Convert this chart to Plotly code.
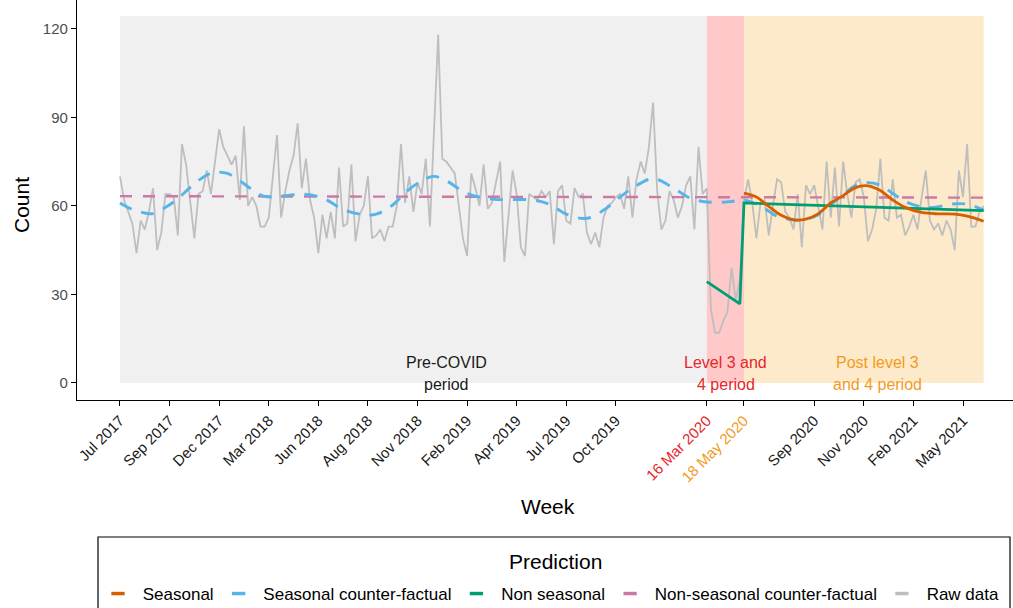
import plotly.graph_objects as go

# ---------------- data ----------------
weeks = list(range(210))
raw_counts = [
    70, 62, 58, 54, 44, 55, 52, 58, 66, 45,
    51, 64, 64, 63, 50, 81, 74, 62, 49, 64,
    65, 72, 64, 75, 86, 80, 77, 74, 77, 62,
    87, 60, 63, 60, 53, 53, 56, 70, 84, 56,
    65, 72, 77, 88, 66, 76, 62, 56, 44, 57,
    49, 58, 49, 73, 53, 54, 74, 48, 57, 60,
    70, 49, 50, 52, 48, 53, 53, 60, 81, 61,
    70, 58, 68, 64, 76, 53, 84, 118, 76, 75,
    73, 71, 60, 49, 43, 71, 66, 60, 74, 59,
    61, 68, 75, 41, 57, 72, 64, 46, 43, 64,
    63, 62, 65, 63, 65, 47, 65, 67, 55, 54,
    66, 63, 64, 51, 47, 51, 46, 56, 60, 61,
    63, 64, 59, 70, 56, 69, 75, 71, 80, 95,
    65, 52, 55, 65, 62, 56, 60, 67, 70, 52,
    80, 64, 66, 25, 17, 17, 21, 24, 39, 28,
    35, 62, 69, 61, 49, 61, 62, 50, 60, 69,
    68, 58, 56, 52, 64, 46, 67, 64, 67, 60,
    52, 75, 56, 73, 53, 75, 64, 56, 68, 69,
    63, 48, 52, 59, 76, 56, 55, 69, 56, 57,
    50, 53, 57, 52, 63, 72, 55, 52, 54, 50,
    55, 52, 45, 72, 63, 81, 53, 53, 58, 60,
]

seasonal_cf_weeks = [0, 3, 6, 8, 11, 14, 17, 21, 23, 26, 29, 32, 35, 40, 44, 49, 54, 59, 62, 66,
                     69, 73, 76, 79, 84, 90, 100, 104, 108, 113, 118, 121, 124, 128, 130, 134,
                     138, 141, 145, 148, 151, 155, 159, 163, 166, 169, 172, 175, 178, 181, 184,
                     187, 190, 193, 197, 201, 205, 209]
seasonal_cf_vals = [61.0, 58.8, 57.6, 57.4, 59.5, 62.4, 66.3, 70.5, 71.4, 71.0, 68.5, 65.5, 63.2,
                    63.5, 64.0, 62.7, 58.8, 57.0, 57.2, 60.3, 64.5, 68.5, 70.0, 68.5, 64.2, 62.3,
                    62.0, 60.5, 57.2, 55.8, 59.5, 63.0, 66.0, 69.0, 69.0, 66.0, 62.6, 61.5, 61.2,
                    61.5, 62.0, 60.0, 56.5, 55.3, 55.5, 57.0, 60.5, 63.7, 67.0, 67.9, 67.0, 64.2,
                    61.5, 60.0, 59.5, 60.6, 60.6, 58.6]

seasonal_weeks = [151, 154, 157, 160, 163, 166, 169, 172, 175, 178, 181, 184, 187, 190, 194, 198, 202, 205, 209]
seasonal_vals = [64.3, 63.0, 59.8, 56.8, 55.3, 55.5, 57.4, 61.0, 63.5, 66.2, 66.8, 65.2, 62.0, 59.5,
                 57.8, 57.3, 57.2, 56.5, 54.8]

nonseasonal_weeks = [142, 150, 151, 209]
nonseasonal_vals = [34.3, 26.8, 61.0, 58.4]

nonseasonal_cf_weeks = [0, 209]
nonseasonal_cf_vals = [63.3, 62.8]

tick_weeks = [0, 12, 24, 36, 48, 60, 72, 84, 96, 108, 120, 142, 151, 168, 180, 192, 204]
tick_labels = ["Jul 2017", "Sep 2017", "Dec 2017", "Mar 2018", "Jun 2018", "Aug 2018",
               "Nov 2018", "Feb 2019", "Apr 2019", "Jul 2019", "Oct 2019",
               "<span style='color:#E8262B'>16 Mar 2020</span>",
               "<span style='color:#F39A1E'>18 May 2020</span>",
               "Sep 2020", "Nov 2020", "Feb 2021", "May 2021"]

periods = [  # (start week, end week, fill)
    (0, 142, "#F0F0F0"),
    (142, 151, "#FFC9C9"),
    (151, 209, "#FDEACB"),
]
period_top = 124.4

period_labels = [
    (79, ["Pre-COVID", "period"], "#1A1A1A"),
    (146.6, ["Level 3 and", "4 period"], "#E8262B"),
    (183.4, ["Post level 3", "and 4 period"], "#F39A1E"),
]

legend_items = [("Seasonal", "#D55E00"), ("Seasonal counter-factual", "#56B4E9"),
                ("Non seasonal", "#009E73"), ("Non-seasonal counter-factual", "#CC79A7"),
                ("Raw data", "#BEBEBE")]

C_SEAS = "#D55E00"
C_SCF = "#56B4E9"
C_NS = "#009E73"
C_NSCF = "#CC79A7"
C_RAW = "#BEBEBE"

FONT = "Liberation Sans, Arial, sans-serif"
PW, PH, ML = 936, 400, 77  # plot-area size in px, left margin


def px_x(p):
    return (p - ML) / PW


def px_y(p):
    return (PH - p) / PH


fig = go.Figure()

for x0, x1, col in periods:
    fig.add_shape(type="rect", x0=x0, x1=x1, y0=0, y1=period_top, xref="x", yref="y",
                  fillcolor=col, line=dict(width=0), layer="below")

fig.add_trace(go.Scatter(x=weeks, y=raw_counts, mode="lines",
                         line=dict(color=C_RAW, width=1.8), showlegend=False, hoverinfo="skip"))
fig.add_trace(go.Scatter(x=nonseasonal_cf_weeks, y=nonseasonal_cf_vals, mode="lines",
                         line=dict(color=C_NSCF, width=2.4, dash="12px,11px"), showlegend=False))
fig.add_trace(go.Scatter(x=seasonal_cf_weeks, y=seasonal_cf_vals, mode="lines",
                         line=dict(color=C_SCF, width=2.9, dash="13px,10px", shape="spline", smoothing=1),
                         showlegend=False))
fig.add_trace(go.Scatter(x=nonseasonal_weeks, y=nonseasonal_vals, mode="lines",
                         line=dict(color=C_NS, width=2.8), showlegend=False))
fig.add_trace(go.Scatter(x=seasonal_weeks, y=seasonal_vals, mode="lines",
                         line=dict(color=C_SEAS, width=2.8, shape="spline", smoothing=1),
                         showlegend=False))

# legend keys (short solid keys like ggplot)
NB = "\u00a0"
for name, col in legend_items:
    fig.add_trace(go.Scatter(x=[None], y=[None], mode="markers", name=NB + name,
                             marker=dict(symbol="line-ew", size=9.5, color=col,
                                         line=dict(width=3.5, color=col))))

# legend frame and title
fig.add_shape(type="rect", xref="paper", yref="paper", x0=px_x(98), x1=px_x(1010),
              y0=px_y(537), y1=px_y(640), line=dict(color="black", width=1.2), fillcolor="white",
              layer="below")
fig.add_annotation(x=px_x(555), y=px_y(561), xref="paper", yref="paper", text="Prediction",
                   showarrow=False, font=dict(family=FONT, size=21, color="black"),
                   xanchor="center", yanchor="middle")

for xw, lines, col in period_labels:
    for i, t in enumerate(lines):
        fig.add_annotation(x=xw, y=6.8 - 7.5 * i, xref="x", yref="y", text=t, showarrow=False,
                           font=dict(family=FONT, size=16, color=col), xanchor="center", yanchor="middle")

# axis titles
fig.add_annotation(x=px_x(22), y=px_y(205), xref="paper", yref="paper", text="Count",
                   textangle=-90, showarrow=False, font=dict(family=FONT, size=21, color="black"),
                   xanchor="center", yanchor="middle")
fig.add_annotation(x=px_x(548), y=px_y(506), xref="paper", yref="paper", text="Week",
                   showarrow=False, font=dict(family=FONT, size=21, color="black"),
                   xanchor="center", yanchor="middle")

fig.update_layout(
    width=1013, height=608,
    margin=dict(l=ML, r=0, t=0, b=608 - PH, autoexpand=False),
    plot_bgcolor="white", paper_bgcolor="white",
    font=dict(family=FONT, color="black"),
    hovermode=False,
    xaxis=dict(range=[-10.4, 216.1], tickmode="array", tickvals=tick_weeks, ticktext=tick_labels,
               tickangle=-45, showline=True, linecolor="black", linewidth=1.3, ticks="outside",
               ticklen=5, tickcolor="black", showgrid=False, zeroline=False, automargin=False,
               tickfont=dict(family=FONT, size=15, color="#1A1A1A")),
    yaxis=dict(range=[-5.8, 129.8], tickvals=[0, 30, 60, 90, 120], showline=True, linecolor="black",
               linewidth=1.3, ticks="outside", ticklen=5, tickcolor="black", showgrid=False,
               zeroline=False, automargin=False, tickfont=dict(family=FONT, size=15, color="#4D4D4D")),
    legend=dict(orientation="h", x=px_x(98), xanchor="left", y=px_y(576), yanchor="top",
                borderwidth=0, bgcolor="rgba(0,0,0,0)",
                font=dict(family=FONT, size=17, color="black")),
    showlegend=True,
)

fig.write_html("out.html", config={"displayModeBar": False},
               post_script="document.body.style.margin='0px';")
